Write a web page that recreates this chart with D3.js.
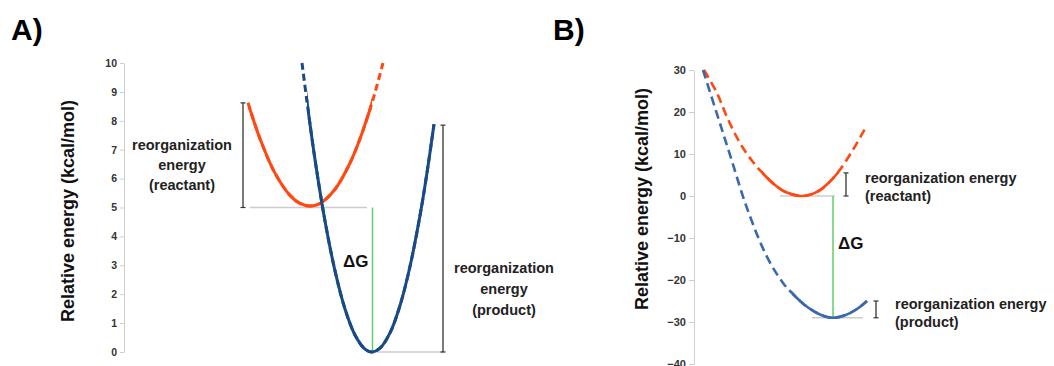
<!DOCTYPE html>
<html>
	<head>
		<meta charset="utf-8">
		<title>Reorganization energy diagrams</title>
		<script src="https://d3js.org/d3.v7.min.js"></script>
		<style>
			body { margin: 0; background: #fff; }
			text { font-family: "Liberation Sans", Arial, sans-serif; }
			.axis path, .axis line { stroke: #cfcfcf; }
			.axis text { font-weight: bold; fill: #333; }
		</style>
	</head>
	<body>
		<div id="chart"></div>
		<script type="text/javascript">
		// ---------- data ----------
		// x is an arbitrary reaction coordinate, y is relative energy (kcal/mol)
		var aTicks = [0, 1, 2, 3, 4, 5, 6, 7, 8, 9, 10];
		var bTicks = [30, 20, 10, 0, -10, -20, -30, -40];

		// panel A
		var aReact = [[12.4, 8.62], [13.6, 7.38], [15.1, 6.19], [16.6, 5.42], [17.6, 5.14], [18.6, 5.05],
			[19.6, 5.14], [21.1, 5.63], [22.6, 6.54], [23.6, 7.38], [24.6, 8.40], [25.2, 9.10], [25.9, 10.0]];
		var aReactSolid = [12.4, 24.6];   // x range drawn solid, the rest dashed
		var aProd = [[17.8, 10.0], [18.3, 8.66], [19.1, 6.66], [20.1, 4.53], [21.1, 2.81], [22.1, 1.49], [23.1, 0.59],
			[24.1, 0.10], [24.8, 0], [25.6, 0.13], [26.6, 0.66], [27.6, 1.61], [28.6, 2.96], [29.6, 4.72],
			[30.3, 6.2], [31.0, 7.88]];
		var aProdSolid = [18.3, 31.0];
		var aLevels = [[12.6, 24.3, 5], [25.3, 31.9, 0]];       // x0, x1, energy
		var aBars = [[11.9, 5, 8.62], [31.9, 0, 7.85]];         // x, low, high
		var aDeltaG = [24.85, 0, 5];

		// panel B
		var bReact = [[1.0, 30], [2.3, 24.5], [3.3, 18.8], [4.6, 12.6], [5.8, 8.4], [6.8, 5.6], [8.1, 2.6],
			[9.1, 1.0], [10.6, 0], [11.6, 0.3], [12.6, 1.4], [13.4, 3.0], [14.3, 5.3], [15.9, 11], [17.3, 16.9]];
		var bReactSolid = [6.8, 14.3];
		var bProd = [[0.9, 30], [2.3, 19.5], [3.6, 9.8], [5.3, -2.9], [7.3, -14.5], [8.9, -20.7], [9.8, -23.1],
			[11.1, -26], [12.6, -28.2], [13.9, -29], [15.1, -28.4], [16.3, -26.9], [17.3, -25]];
		var bProdSolid = [9.8, 17.3];
		var bLevels = [[8.6, 14.1, 0], [11.8, 16.9, -29]];
		var bBars = [[15.2, 0, 5.5], [18.2, -29, -25]];
		var bDeltaG = [13.9, -29, 0];

		// ---------- colours ----------
		var orange = "#ff4812";
		var blueA = "#174a87";
		var blueB = "#3b69aa";
		var green = "#5fce6a";

		var svg = d3.select("#chart").append("svg")
			.attr("width", 1054)
			.attr("height", 366);
		var defs = svg.append("defs");

		// scales
		var xA = d3.scaleLinear().domain([0, 33]).range([124, 454]);
		var yA = d3.scaleLinear().domain([0, 10]).range([352, 63]);
		var xB = d3.scaleLinear().domain([0, 36]).range([694, 1054]);
		var yB = d3.scaleLinear().domain([-40, 30]).range([364, 70]);

		// panel titles
		svg.append("text").attr("x", 11).attr("y", 40)
			.style("font-size", "30px").style("font-weight", "bold").text("A)");
		svg.append("text").attr("x", 553).attr("y", 40)
			.style("font-size", "30px").style("font-weight", "bold").text("B)");

		// axes
		svg.append("g").attr("class", "axis")
			.attr("transform", "translate(" + xA(0) + ",0)")
			.call(d3.axisLeft(yA).tickValues(aTicks).tickSize(4).tickSizeOuter(0).tickPadding(3))
			.selectAll("text").style("font-size", "10.5px");
		svg.append("g").attr("class", "axis")
			.attr("transform", "translate(" + xB(0) + ",0)")
			.call(d3.axisLeft(yB).tickValues(bTicks).tickSize(5).tickSizeOuter(0).tickPadding(3))
			.selectAll("text").style("font-size", "11px");

		// y axis titles
		svg.append("text")
			.attr("transform", "translate(74,211) rotate(-90)")
			.attr("text-anchor", "middle")
			.style("font-size", "18px").style("font-weight", "bold").style("fill", "#111")
			.text("Relative energy (kcal/mol)");
		svg.append("text")
			.attr("transform", "translate(648,199) rotate(-90)")
			.attr("text-anchor", "middle")
			.style("font-size", "18px").style("font-weight", "bold").style("fill", "#111")
			.text("Relative energy (kcal/mol)");

		// one smooth curve: dashed everywhere, solid (clipped) inside its solid range
		var clipCount = 0;
		function drawCurve(data, solidRange, xs, ys, color, width, dash) {
			var line = d3.line()
				.x(function(d) { return xs(d[0]); })
				.y(function(d) { return ys(d[1]); })
				.curve(d3.curveCatmullRom);
			var id = "solidclip" + (clipCount++);
			defs.append("clipPath").attr("id", id).append("rect")
				.attr("x", xs(solidRange[0])).attr("y", 0)
				.attr("width", xs(solidRange[1]) - xs(solidRange[0]) + 2)
				.attr("height", 366);
			svg.append("path")
				.datum(data)
				.attr("d", line)
				.attr("fill", "none")
				.attr("stroke", color)
				.attr("stroke-width", width)
				.attr("stroke-dasharray", dash);
			svg.append("path")
				.datum(data)
				.attr("d", line)
				.attr("clip-path", "url(#" + id + ")")
				.attr("fill", "none")
				.attr("stroke", color)
				.attr("stroke-width", width);
		}

		function drawLevels(levels, xs, ys) {
			svg.selectAll(null).data(levels).enter().append("line")
				.attr("x1", function(d) { return xs(d[0]); })
				.attr("x2", function(d) { return xs(d[1]); })
				.attr("y1", function(d) { return ys(d[2]); })
				.attr("y2", function(d) { return ys(d[2]); })
				.attr("stroke", "#cccccc").attr("stroke-width", 1.5);
		}

		function drawBars(bars, xs, ys) {
			var g = svg.selectAll(null).data(bars).enter().append("g");
			g.append("line")
				.attr("x1", function(d) { return xs(d[0]); })
				.attr("x2", function(d) { return xs(d[0]); })
				.attr("y1", function(d) { return ys(d[1]); })
				.attr("y2", function(d) { return ys(d[2]); })
				.attr("stroke", "#333").attr("stroke-width", 1.3);
			[1, 2].forEach(function(k) {
				g.append("line")
					.attr("x1", function(d) { return xs(d[0]) - 2.5; })
					.attr("x2", function(d) { return xs(d[0]) + 2.5; })
					.attr("y1", function(d) { return ys(d[k]); })
					.attr("y2", function(d) { return ys(d[k]); })
					.attr("stroke", "#333").attr("stroke-width", 1.2);
			});
		}

		function drawDeltaG(dg, xs, ys) {
			svg.append("line")
				.attr("x1", xs(dg[0])).attr("x2", xs(dg[0]))
				.attr("y1", ys(dg[1])).attr("y2", ys(dg[2]))
				.attr("stroke", green).attr("stroke-width", 1.5);
		}

		////////// PANEL A //////////
		drawLevels(aLevels, xA, yA);
		drawBars(aBars, xA, yA);
		drawDeltaG(aDeltaG, xA, yA);
		drawCurve(aReact, aReactSolid, xA, yA, orange, 3, "7,4");
		drawCurve(aProd, aProdSolid, xA, yA, blueA, 3, "7,4");

		////////// PANEL B //////////
		drawLevels(bLevels, xB, yB);
		drawBars(bBars, xB, yB);
		drawDeltaG(bDeltaG, xB, yB);
		drawCurve(bReact, bReactSolid, xB, yB, orange, 2.6, "9,5");
		drawCurve(bProd, bProdSolid, xB, yB, blueB, 2.6, "9,5");

		// annotation text
		function addLines(x, y0, step, anchor, lines) {
			var t = svg.append("text")
				.attr("text-anchor", anchor)
				.style("font-size", "14.5px").style("font-weight", "bold").style("fill", "#222");
			lines.forEach(function(s, i) {
				t.append("tspan").attr("x", x).attr("y", y0 + i * step).text(s);
			});
		}
		addLines(182, 150, 20, "middle", ["reorganization", "energy", "(reactant)"]);
		addLines(504, 273, 21, "middle", ["reorganization", "energy", "(product)"]);
		addLines(865, 183, 18, "start", ["reorganization energy", "(reactant)"]);
		addLines(895, 309, 18, "start", ["reorganization energy", "(product)"]);

		svg.append("text").attr("x", 343).attr("y", 267)
			.style("font-size", "17px").style("font-weight", "bold").style("fill", "#111").text("\u0394G");
		svg.append("text").attr("x", 838).attr("y", 249)
			.style("font-size", "17px").style("font-weight", "bold").style("fill", "#111").text("\u0394G");
		</script>
	</body>
</html>
